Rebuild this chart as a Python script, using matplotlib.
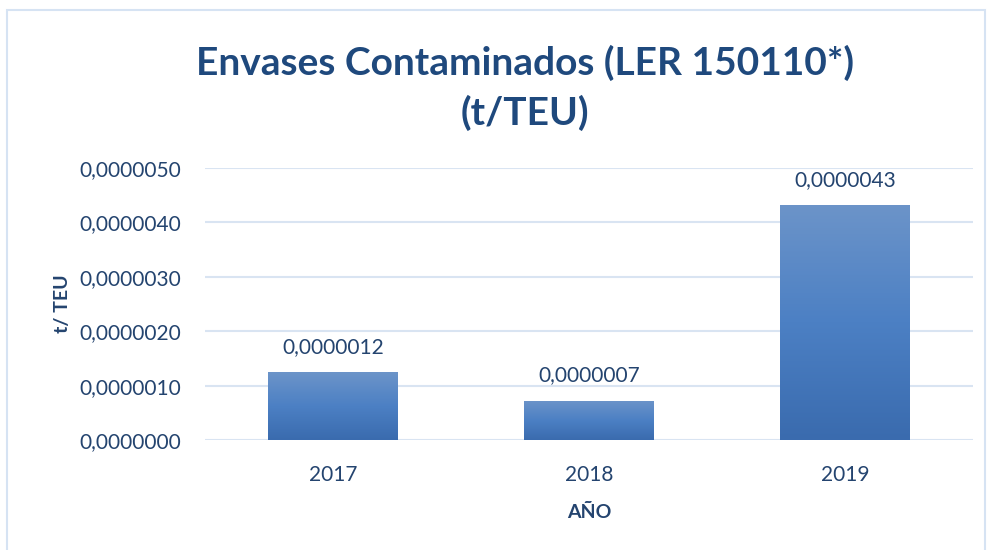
import matplotlib
matplotlib.use("Agg")
import matplotlib.pyplot as plt
import numpy as np
from matplotlib.patches import Rectangle
from matplotlib.colors import LinearSegmentedColormap

years = ["2017", "2018", "2019"]
values = [0.00000125, 0.00000072, 0.00000432]
labels = ["0,0000012", "0,0000007", "0,0000043"]
yticks = [0, 1e-6, 2e-6, 3e-6, 4e-6, 5e-6]
ytick_labels = ["0,0000000", "0,0000010", "0,0000020", "0,0000030", "0,0000040", "0,0000050"]

plt.rcParams['font.family'] = ['Lato', 'DejaVu Sans']
title_col = "#1F497D"
text_col = "#24446F"

fig = plt.figure(figsize=(9.89, 5.5), dpi=100)
fig.patch.set_facecolor("white")
# outer frame
fig.add_artist(Rectangle((7/989, -0.05), (985-7)/989, 1 - 10/550 + 0.05, transform=fig.transFigure,
                         fill=False, edgecolor="#D6E3F3", linewidth=1.5))

ax = fig.add_axes([205/989, 1 - 440/550, (973-205)/989, (440-168)/550])
ax.set_xlim(-0.5, 2.5)
ax.set_ylim(0, 5e-6)

cmap = LinearSegmentedColormap.from_list("g", ["#3A6BAE", "#4C80C4", "#6C94C9"])
grad = np.linspace(0, 1, 256).reshape(-1, 1)
width = 0.507
x = np.arange(len(years))
bars = ax.bar(x, values, width=width, color="none", edgecolor="none", zorder=3)
for b in bars:
    x0, y0 = b.get_x(), b.get_y()
    w, h = b.get_width(), b.get_height()
    im = ax.imshow(grad, cmap=cmap, origin="lower", aspect="auto",
                   extent=[x0, x0 + w, y0, y0 + h], zorder=3)
    im.set_clip_path(b)
ax.set_xlim(-0.5, 2.5)
ax.set_ylim(0, 5e-6)

for xi, v, lab in zip(x, values, labels):
    ax.annotate(lab, (xi, v), xytext=(0, 11), textcoords="offset points",
                ha="center", va="bottom", fontsize=15, color=text_col)

ax.set_yticks(yticks)
ax.set_yticklabels(ytick_labels)
ax.set_xticks(x)
ax.set_xticklabels(years)
ax.tick_params(axis="both", length=0, labelsize=15, colors=text_col)
ax.tick_params(axis="y", pad=17)
ax.tick_params(axis="x", pad=18)
ax.grid(axis="y", color="#D9E4F2", linewidth=1.5, zorder=0)
ax.set_axisbelow(True)
for s in ax.spines.values():
    s.set_visible(False)

ax.set_xlabel("AÑO", fontsize=14, fontweight="bold", color=text_col, labelpad=14)
ax.set_ylabel("t/ TEU", fontsize=14, fontweight="bold", color=text_col, labelpad=6)

fig.text(525/989, 1 - 63/550, "Envases Contaminados (LER 150110*)", ha="center", va="center",
         fontsize=28, fontweight="bold", color=title_col)
fig.text(525/989, 1 - 113/550, "(t/TEU)", ha="center", va="center",
         fontsize=28, fontweight="bold", color=title_col)

fig.savefig("out.png", dpi=100)
